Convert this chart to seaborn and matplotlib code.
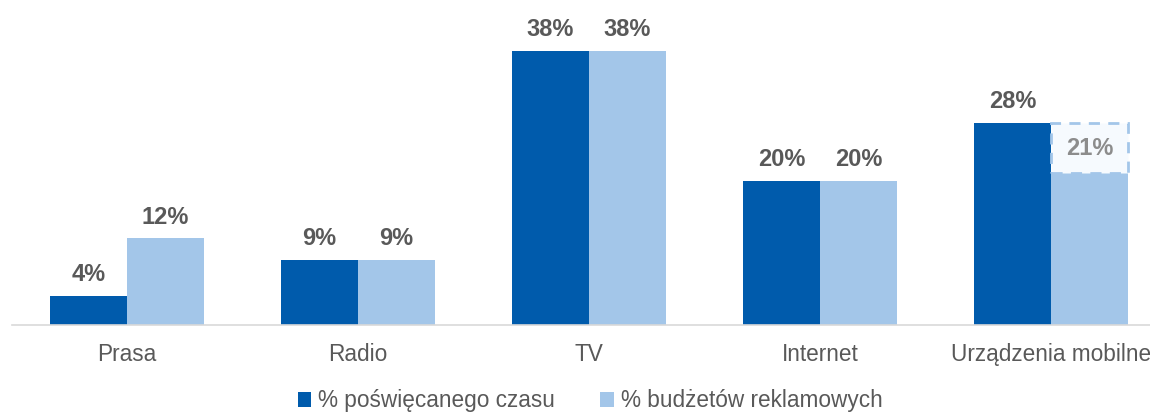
import pandas as pd
import seaborn as sns
import matplotlib.pyplot as plt
from matplotlib.patches import Rectangle

kategorie = ["Prasa", "Radio", "TV", "Internet", "Urządzenia mobilne"]
czas = [4, 9, 38, 20, 28]
budzety = [12, 9, 38, 20, 21]
serie = ["% poświęcanego czasu", "% budżetów reklamowych"]

df = pd.DataFrame({
    "Kategoria": kategorie * 2,
    "Wartosc": czas + budzety,
    "Seria": [serie[0]] * len(kategorie) + [serie[1]] * len(kategorie),
})

sns.set_theme(style="white")
plt.rcParams["font.family"] = ["Liberation Sans", "DejaVu Sans"]

fig = plt.figure(figsize=(11.5, 4.12), dpi=100)
ax = fig.add_axes([0.01, 0.2112, 1.0043, 0.7888])

kolory = ["#005BAC", "#A3C6E9"]
sns.barplot(
    data=df, x="Kategoria", y="Wartosc", hue="Seria",
    palette=kolory, width=0.667, saturation=1, ax=ax,
    edgecolor="none", linewidth=0,
)

ax.set_ylim(0, 45.0)
ax.set_xlim(-0.5, 4.5)
ax.set_xlabel("")
ax.set_ylabel("")
ax.set_yticks([])
for s in ["top", "right", "left"]:
    ax.spines[s].set_visible(False)
ax.spines["bottom"].set_color("#D9D9D9")
ax.spines["bottom"].set_linewidth(1.2)
ax.tick_params(axis="x", length=0, pad=13, labelsize=16.3, labelcolor="#595959")

bars = ax.patches[:2 * len(kategorie)]
n = len(kategorie)
for i, p in enumerate(bars):
    x = p.get_x() + p.get_width() / 2
    h = p.get_height()
    if i == 2 * n - 1:
        # dashed box from the light bar up to the dark bar's level
        top = czas[-1]
        ax.add_patch(Rectangle((p.get_x(), h), p.get_width(), top - h,
                               facecolor="#F6FAFE", edgecolor="#A3C6E9",
                               linestyle=(0, (4, 3)), linewidth=2, zorder=3))
        ax.text(x, (h + top) / 2, f"{h:.0f}%", ha="center", va="center",
                fontsize=17, fontweight="bold", color="#8C8C8C", zorder=4)
    else:
        ax.text(x, h + 1.35, f"{h:.0f}%", ha="center", va="bottom",
                fontsize=17, fontweight="bold", color="#595959")

ax.legend(
    loc="center", ncol=2, frameon=False, fontsize=16.3,
    handlelength=0.6, handleheight=0.6,
    handletextpad=0.3, columnspacing=2.0, labelcolor="#595959",
)
ax.get_legend().set_bbox_to_anchor((0.513, 0.027), transform=fig.transFigure)

fig.savefig("out.png", dpi=100)
